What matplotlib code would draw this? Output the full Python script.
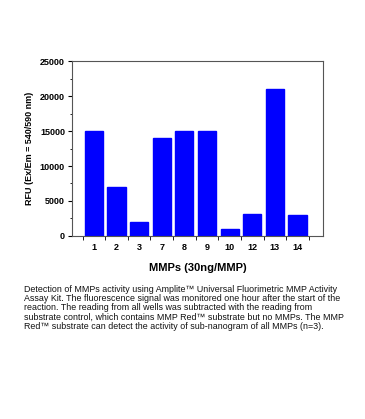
import numpy as np
import matplotlib.pyplot as plt
from matplotlib.ticker import MultipleLocator

plt.rcParams['font.family'] = ['Liberation Sans', 'DejaVu Sans']

# data
mmps = ['1', '2', '3', '7', '8', '9', '10', '12', '13', '14']
rfu = [15000, 7000, 2000, 14000, 15000, 15000, 1000, 3200, 21000, 3000]

caption = [
    "Detection of MMPs activity using Amplite\u2122 Universal Fluorimetric MMP Activity",
    "Assay Kit. The fluorescence signal was monitored one hour after the start of the",
    "reaction. The reading from all wells was subtracted with the reading from",
    "substrate control, which contains MMP Red\u2122 substrate but no MMPs. The MMP",
    "Red\u2122 substrate can detect the activity of sub-nanogram of all MMPs (n=3).",
]

fig = plt.figure(figsize=(3.65, 4.19), dpi=100)
ax = fig.add_axes([0.197, 0.437, 0.688, 0.417])

x = np.arange(len(mmps))
ax.bar(x, rfu, width=0.8, color='#0000ff', edgecolor='#0000ff')

ax.set_xlim(-0.97, 10.13)
ax.set_ylim(0, 25000)
ax.set_xticks(x)
ax.set_xticklabels(mmps, fontsize=6.5, fontweight='bold')
ax.set_xticks(np.arange(-0.5, len(mmps)), minor=True)
ax.tick_params(axis='x', which='major', length=0, pad=5)
ax.tick_params(axis='x', which='minor', length=3, direction='out')
ax.yaxis.set_major_locator(MultipleLocator(5000))
ax.yaxis.set_minor_locator(MultipleLocator(2500))
ax.tick_params(axis='y', which='major', length=3, labelsize=6.5, pad=2)
ax.tick_params(axis='y', which='minor', length=1.5)
for lab in ax.get_yticklabels():
    lab.set_fontweight('bold')
for s in ax.spines.values():
    s.set_linewidth(0.8)
    s.set_color('#555555')

ax.set_ylabel('RFU (Ex/Em = 540/590 nm)', fontsize=6.5, fontweight='bold', labelpad=4)
ax.set_xlabel('MMPs (30ng/MMP)', fontsize=8, fontweight='bold', labelpad=8)

y0 = 1 - 289 / 419
for i, line in enumerate(caption):
    fig.text(24 / 365, y0 - i * 9.4 / 419, line, fontsize=6.4, va='center', ha='left', color='#111111')

fig.savefig('out.png', dpi=100)
